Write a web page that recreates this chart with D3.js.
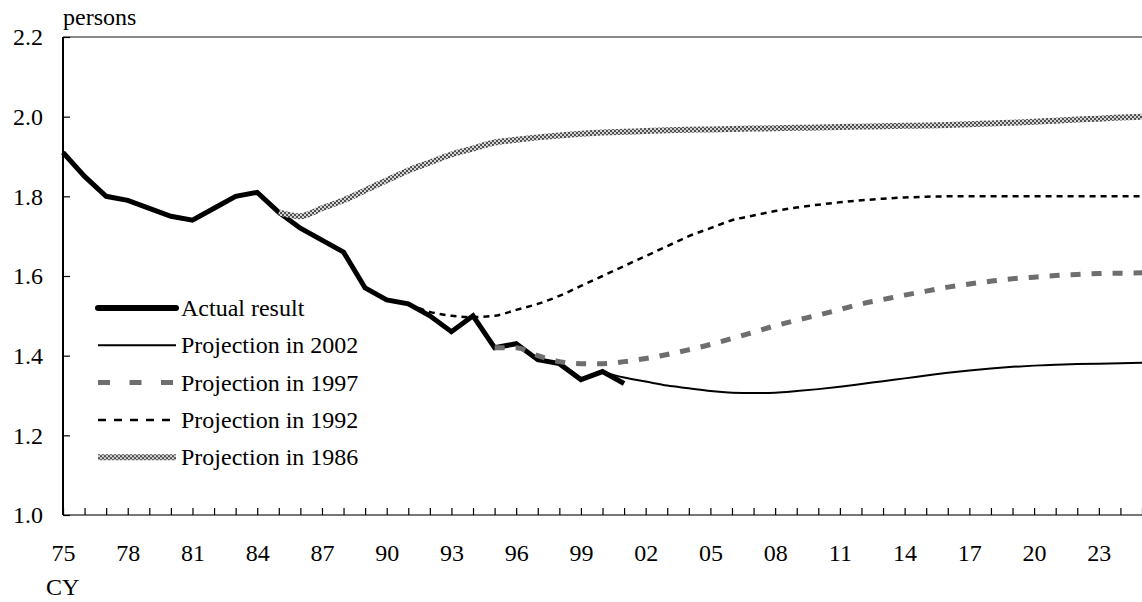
<!DOCTYPE html>
<html>
<head>
<meta charset="utf-8">
<script src="https://cdn.jsdelivr.net/npm/d3@7"></script>
<style>
  body { margin: 0; background: #fff; }
  svg { display: block; }
</style>
</head>
<body>
<svg></svg>
<script>
// Actual total fertility rate
const actualYears = [1975, 1976, 1977, 1978, 1979, 1980, 1981, 1982, 1983, 1984, 1985, 1986, 1987, 1988,
  1989, 1990, 1991, 1992, 1993, 1994, 1995, 1996, 1997, 1998, 1999, 2000, 2001];
const actualValues = [1.91, 1.85, 1.80, 1.79, 1.77, 1.75, 1.74, 1.77, 1.80, 1.81, 1.76, 1.72, 1.69, 1.66,
  1.57, 1.54, 1.53, 1.50, 1.46, 1.50, 1.42, 1.43, 1.39, 1.38, 1.34, 1.36, 1.33];

// Projection in 2002
const years2002 = d3.range(2000, 2026);
const values2002 = [1.36, 1.345, 1.335, 1.325, 1.318, 1.311, 1.307, 1.306, 1.307, 1.311, 1.316, 1.322, 1.329,
  1.336, 1.343, 1.350, 1.357, 1.363, 1.368, 1.372, 1.375, 1.377, 1.379, 1.380, 1.381, 1.382];

// Projection in 1997
const years1997 = d3.range(1995, 2026);
const values1997 = [1.42, 1.42, 1.40, 1.385, 1.38, 1.38, 1.385, 1.393, 1.403, 1.415, 1.428, 1.443, 1.459,
  1.475, 1.489, 1.502, 1.516, 1.530, 1.541, 1.552, 1.562, 1.572, 1.580, 1.587, 1.593, 1.597, 1.601, 1.604,
  1.606, 1.607, 1.608];

// Projection in 1992
const years1992 = d3.range(1991, 2026);
const values1992 = [1.53, 1.51, 1.50, 1.497, 1.50, 1.515, 1.53, 1.55, 1.575, 1.60, 1.625, 1.65, 1.675, 1.70,
  1.72, 1.74, 1.752, 1.763, 1.772, 1.779, 1.785, 1.790, 1.794, 1.797, 1.799, 1.80, 1.80, 1.80, 1.80, 1.80,
  1.80, 1.80, 1.80, 1.80, 1.80];

// Projection in 1986
const years1986 = d3.range(1985, 2026);
const values1986 = [1.76, 1.75, 1.77, 1.79, 1.815, 1.84, 1.865, 1.885, 1.905, 1.92, 1.935, 1.942, 1.948,
  1.953, 1.957, 1.96, 1.962, 1.964, 1.966, 1.967, 1.968, 1.969, 1.970, 1.971, 1.972, 1.973, 1.974, 1.975,
  1.976, 1.977, 1.978, 1.979, 1.981, 1.983, 1.985, 1.987, 1.990, 1.993, 1.995, 1.998, 2.00];

const yTicks = [1.0, 1.2, 1.4, 1.6, 1.8, 2.0, 2.2];
const legendNames = ["Actual result", "Projection in 2002", "Projection in 1997", "Projection in 1992", "Projection in 1986"];

const FONT = "'Liberation Serif', 'DejaVu Serif', serif";

const width = 1142, height = 602;
const svg = d3.select("svg").attr("width", width).attr("height", height);

// checker pattern for the 1986 line
const pat = svg.append("defs").append("pattern")
  .attr("id", "checker")
  .attr("patternUnits", "userSpaceOnUse")
  .attr("width", 4).attr("height", 4);
pat.append("rect").attr("width", 4).attr("height", 4).attr("fill", "#d4d4d4");
pat.append("rect").attr("width", 2).attr("height", 2).attr("fill", "#505050");
pat.append("rect").attr("x", 2).attr("y", 2).attr("width", 2).attr("height", 2).attr("fill", "#505050");

const x = d3.scaleLinear().domain([1975, 2025]).range([63, 1142]);
const y = d3.scaleLinear().domain([1.0, 2.2]).range([515, 37]);

// top border at 2.2
svg.append("line")
  .attr("x1", x(1975)).attr("x2", x(2025))
  .attr("y1", y(2.2)).attr("y2", y(2.2))
  .attr("stroke", "#888").attr("stroke-width", 2);

// x axis, a tick every year, label every 3 years
const xAxis = d3.axisBottom(x)
  .tickValues(d3.range(1975, 2026))
  .tickSize(-7)
  .tickPadding(29)
  .tickFormat(d => (d - 1975) % 3 === 0 ? String(d % 100).padStart(2, "0") : "");

const gx = svg.append("g")
  .attr("transform", `translate(0, ${y(1.0)})`)
  .call(xAxis)
  .attr("font-family", FONT)
  .attr("font-size", 24);
gx.select(".domain").attr("stroke", "#777").attr("stroke-width", 2).attr("d", `M${x(1975)},0H${x(2025)}`);
gx.selectAll(".tick line").attr("stroke", "#000").attr("stroke-width", 1.2);

// y axis
const yAxis = d3.axisLeft(y)
  .tickValues(yTicks)
  .tickSize(-7)
  .tickPadding(20)
  .tickFormat(d3.format(".1f"));

const gy = svg.append("g")
  .attr("transform", `translate(${x(1975)}, 0)`)
  .call(yAxis)
  .attr("font-family", FONT)
  .attr("font-size", 24);
gy.select(".domain").attr("stroke", "#000").attr("stroke-width", 2).attr("d", `M0,${y(2.2)}V${y(1.0)}`);
gy.selectAll(".tick line").attr("stroke", "#000").attr("stroke-width", 1.2);

// axis titles
svg.append("text").attr("x", 63).attr("y", 25)
  .attr("font-family", FONT).attr("font-size", 24).text("persons");
svg.append("text").attr("x", 46).attr("y", 595)
  .attr("font-family", FONT).attr("font-size", 24).text("CY");

const line = d3.line().x(d => x(d[0])).y(d => y(d[1]));
const smooth = d3.line().x(d => x(d[0])).y(d => y(d[1])).curve(d3.curveMonotoneX);

// styles for each series: stroke, width, dash in chart, dash in legend
const styles = [
  { stroke: "#000", width: 5, dash: null, legendDash: null },
  { stroke: "#000", width: 2, dash: null, legendDash: null },
  { stroke: "#6e6e6e", width: 5, dash: "10,11", legendDash: "12,19.5" },
  { stroke: "#000", width: 2.5, dash: "6,5", legendDash: "8,8" },
  { stroke: "url(#checker)", width: 6, dash: null, legendDash: null }
];

const series = [
  { pts: d3.zip(actualYears, actualValues), gen: line },
  { pts: d3.zip(years2002, values2002), gen: smooth },
  { pts: d3.zip(years1997, values1997), gen: smooth },
  { pts: d3.zip(years1992, values1992), gen: smooth },
  { pts: d3.zip(years1986, values1986), gen: smooth }
];

series.forEach((s, i) => {
  svg.append("path")
    .attr("d", s.gen(s.pts))
    .attr("fill", "none")
    .attr("stroke", styles[i].stroke)
    .attr("stroke-width", styles[i].width)
    .attr("stroke-dasharray", styles[i].dash);
});

// legend
const legend = svg.append("g")
  .selectAll("g")
  .data(legendNames)
  .enter()
  .append("g")
  .attr("transform", (_d, i) => `translate(98, ${308 + i * 37.3})`);

legend.append("line")
  .attr("x1", 0).attr("x2", 78)
  .attr("stroke", (_d, i) => styles[i].stroke)
  .attr("stroke-width", (_d, i) => i === 0 ? 6 : styles[i].width)
  .attr("stroke-linecap", (_d, i) => i === 0 ? "round" : "butt")
  .attr("stroke-dasharray", (_d, i) => styles[i].legendDash);

legend.append("text")
  .attr("x", 83)
  .attr("y", 8)
  .attr("font-family", FONT)
  .attr("font-size", 24)
  .text(d => d);
</script>
</body>
</html>
